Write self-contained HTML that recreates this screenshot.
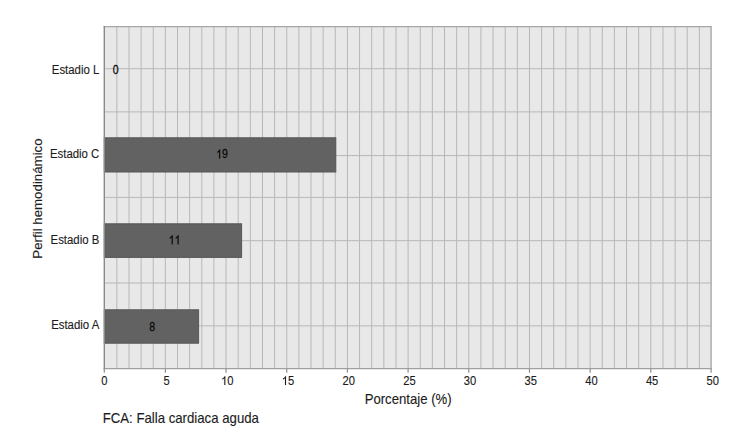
<!DOCTYPE html>
<html><head><meta charset="utf-8"><style>
html,body{margin:0;padding:0;background:#fff;width:736px;height:433px;overflow:hidden}
svg{display:block}
text{font-family:"Liberation Sans",sans-serif;fill:#1c1c1c;stroke:#1c1c1c;stroke-width:0.12px}
</style></head><body>
<svg width="736" height="433" viewBox="0 0 736 433">
<rect x="104.3" y="26.65" width="606.80" height="342.05" fill="#e8e8e8"/>
<line x1="116.84" y1="26.65" x2="116.84" y2="368.7" stroke="#b7b7b7" stroke-width="1"/>
<line x1="128.97" y1="26.65" x2="128.97" y2="368.7" stroke="#b7b7b7" stroke-width="1"/>
<line x1="141.11" y1="26.65" x2="141.11" y2="368.7" stroke="#b7b7b7" stroke-width="1"/>
<line x1="153.24" y1="26.65" x2="153.24" y2="368.7" stroke="#b7b7b7" stroke-width="1"/>
<line x1="165.38" y1="26.65" x2="165.38" y2="368.7" stroke="#b7b7b7" stroke-width="1"/>
<line x1="177.52" y1="26.65" x2="177.52" y2="368.7" stroke="#b7b7b7" stroke-width="1"/>
<line x1="189.65" y1="26.65" x2="189.65" y2="368.7" stroke="#b7b7b7" stroke-width="1"/>
<line x1="201.79" y1="26.65" x2="201.79" y2="368.7" stroke="#b7b7b7" stroke-width="1"/>
<line x1="213.92" y1="26.65" x2="213.92" y2="368.7" stroke="#b7b7b7" stroke-width="1"/>
<line x1="226.06" y1="26.65" x2="226.06" y2="368.7" stroke="#b7b7b7" stroke-width="1"/>
<line x1="238.20" y1="26.65" x2="238.20" y2="368.7" stroke="#b7b7b7" stroke-width="1"/>
<line x1="250.33" y1="26.65" x2="250.33" y2="368.7" stroke="#b7b7b7" stroke-width="1"/>
<line x1="262.47" y1="26.65" x2="262.47" y2="368.7" stroke="#b7b7b7" stroke-width="1"/>
<line x1="274.60" y1="26.65" x2="274.60" y2="368.7" stroke="#b7b7b7" stroke-width="1"/>
<line x1="286.74" y1="26.65" x2="286.74" y2="368.7" stroke="#b7b7b7" stroke-width="1"/>
<line x1="298.88" y1="26.65" x2="298.88" y2="368.7" stroke="#b7b7b7" stroke-width="1"/>
<line x1="311.01" y1="26.65" x2="311.01" y2="368.7" stroke="#b7b7b7" stroke-width="1"/>
<line x1="323.15" y1="26.65" x2="323.15" y2="368.7" stroke="#b7b7b7" stroke-width="1"/>
<line x1="335.28" y1="26.65" x2="335.28" y2="368.7" stroke="#b7b7b7" stroke-width="1"/>
<line x1="347.42" y1="26.65" x2="347.42" y2="368.7" stroke="#b7b7b7" stroke-width="1"/>
<line x1="359.56" y1="26.65" x2="359.56" y2="368.7" stroke="#b7b7b7" stroke-width="1"/>
<line x1="371.69" y1="26.65" x2="371.69" y2="368.7" stroke="#b7b7b7" stroke-width="1"/>
<line x1="383.83" y1="26.65" x2="383.83" y2="368.7" stroke="#b7b7b7" stroke-width="1"/>
<line x1="395.96" y1="26.65" x2="395.96" y2="368.7" stroke="#b7b7b7" stroke-width="1"/>
<line x1="408.10" y1="26.65" x2="408.10" y2="368.7" stroke="#b7b7b7" stroke-width="1"/>
<line x1="420.24" y1="26.65" x2="420.24" y2="368.7" stroke="#b7b7b7" stroke-width="1"/>
<line x1="432.37" y1="26.65" x2="432.37" y2="368.7" stroke="#b7b7b7" stroke-width="1"/>
<line x1="444.51" y1="26.65" x2="444.51" y2="368.7" stroke="#b7b7b7" stroke-width="1"/>
<line x1="456.64" y1="26.65" x2="456.64" y2="368.7" stroke="#b7b7b7" stroke-width="1"/>
<line x1="468.78" y1="26.65" x2="468.78" y2="368.7" stroke="#b7b7b7" stroke-width="1"/>
<line x1="480.92" y1="26.65" x2="480.92" y2="368.7" stroke="#b7b7b7" stroke-width="1"/>
<line x1="493.05" y1="26.65" x2="493.05" y2="368.7" stroke="#b7b7b7" stroke-width="1"/>
<line x1="505.19" y1="26.65" x2="505.19" y2="368.7" stroke="#b7b7b7" stroke-width="1"/>
<line x1="517.32" y1="26.65" x2="517.32" y2="368.7" stroke="#b7b7b7" stroke-width="1"/>
<line x1="529.46" y1="26.65" x2="529.46" y2="368.7" stroke="#b7b7b7" stroke-width="1"/>
<line x1="541.60" y1="26.65" x2="541.60" y2="368.7" stroke="#b7b7b7" stroke-width="1"/>
<line x1="553.73" y1="26.65" x2="553.73" y2="368.7" stroke="#b7b7b7" stroke-width="1"/>
<line x1="565.87" y1="26.65" x2="565.87" y2="368.7" stroke="#b7b7b7" stroke-width="1"/>
<line x1="578.00" y1="26.65" x2="578.00" y2="368.7" stroke="#b7b7b7" stroke-width="1"/>
<line x1="590.14" y1="26.65" x2="590.14" y2="368.7" stroke="#b7b7b7" stroke-width="1"/>
<line x1="602.28" y1="26.65" x2="602.28" y2="368.7" stroke="#b7b7b7" stroke-width="1"/>
<line x1="614.41" y1="26.65" x2="614.41" y2="368.7" stroke="#b7b7b7" stroke-width="1"/>
<line x1="626.55" y1="26.65" x2="626.55" y2="368.7" stroke="#b7b7b7" stroke-width="1"/>
<line x1="638.68" y1="26.65" x2="638.68" y2="368.7" stroke="#b7b7b7" stroke-width="1"/>
<line x1="650.82" y1="26.65" x2="650.82" y2="368.7" stroke="#b7b7b7" stroke-width="1"/>
<line x1="662.96" y1="26.65" x2="662.96" y2="368.7" stroke="#b7b7b7" stroke-width="1"/>
<line x1="675.09" y1="26.65" x2="675.09" y2="368.7" stroke="#b7b7b7" stroke-width="1"/>
<line x1="687.23" y1="26.65" x2="687.23" y2="368.7" stroke="#b7b7b7" stroke-width="1"/>
<line x1="699.36" y1="26.65" x2="699.36" y2="368.7" stroke="#b7b7b7" stroke-width="1"/>
<line x1="104.3" y1="68.70" x2="711.1" y2="68.70" stroke="#b7b7b7" stroke-width="1"/>
<line x1="104.3" y1="111.90" x2="711.1" y2="111.90" stroke="#b7b7b7" stroke-width="1"/>
<line x1="104.3" y1="155.60" x2="711.1" y2="155.60" stroke="#b7b7b7" stroke-width="1"/>
<line x1="104.3" y1="197.40" x2="711.1" y2="197.40" stroke="#b7b7b7" stroke-width="1"/>
<line x1="104.3" y1="240.70" x2="711.1" y2="240.70" stroke="#b7b7b7" stroke-width="1"/>
<line x1="104.3" y1="283.00" x2="711.1" y2="283.00" stroke="#b7b7b7" stroke-width="1"/>
<line x1="104.3" y1="325.90" x2="711.1" y2="325.90" stroke="#b7b7b7" stroke-width="1"/>
<rect x="104.3" y="137.80" width="231.50" height="34.20" fill="#626262" stroke="#575757" stroke-width="1"/>
<rect x="104.3" y="223.80" width="137.30" height="33.60" fill="#626262" stroke="#575757" stroke-width="1"/>
<rect x="104.3" y="309.80" width="94.30" height="33.40" fill="#626262" stroke="#575757" stroke-width="1"/>
<line x1="103.6" y1="26.65" x2="711.8000000000001" y2="26.65" stroke="#a6a6a6" stroke-width="1.3"/>
<line x1="711.1" y1="26.65" x2="711.1" y2="368.7" stroke="#a8a8a8" stroke-width="1.4"/>
<line x1="103.6" y1="368.7" x2="711.8000000000001" y2="368.7" stroke="#a0a09e" stroke-width="1.3"/>
<line x1="104.3" y1="26.049999999999997" x2="104.3" y2="369.3" stroke="#8a8a8a" stroke-width="1.4"/>
<line x1="104.30" y1="368.7" x2="104.30" y2="372.7" stroke="#8e8e8e" stroke-width="1.2"/>
<text transform="translate(101.19,384.90) scale(1,1.06)" style="font-size:11.2px;fill:#1c1c1c;stroke:#1c1c1c;stroke-width:0.12px">0</text>
<line x1="165.38" y1="368.7" x2="165.38" y2="372.7" stroke="#8e8e8e" stroke-width="1.2"/>
<text transform="translate(163.57,384.90) scale(1,1.06)" style="font-size:11.2px;fill:#1c1c1c;stroke:#1c1c1c;stroke-width:0.12px">5</text>
<line x1="226.06" y1="368.7" x2="226.06" y2="372.7" stroke="#8e8e8e" stroke-width="1.2"/>
<path transform="translate(221.13,384.90) scale(0.005469,-0.005797)" d="M763 0H583V1147Q518 1085 412.5 1023T223 930V1104Q375 1175 488.5 1276T649 1472H763Z" fill="#1c1c1c" stroke="#1c1c1c" stroke-width="21.9"/>
<text transform="translate(227.36,384.90) scale(1,1.06)" style="font-size:11.2px;fill:#1c1c1c;stroke:#1c1c1c;stroke-width:0.12px">0</text>
<line x1="286.74" y1="368.7" x2="286.74" y2="372.7" stroke="#8e8e8e" stroke-width="1.2"/>
<path transform="translate(281.81,384.90) scale(0.005469,-0.005797)" d="M763 0H583V1147Q518 1085 412.5 1023T223 930V1104Q375 1175 488.5 1276T649 1472H763Z" fill="#1c1c1c" stroke="#1c1c1c" stroke-width="21.9"/>
<text transform="translate(288.04,384.90) scale(1,1.06)" style="font-size:11.2px;fill:#1c1c1c;stroke:#1c1c1c;stroke-width:0.12px">5</text>
<line x1="347.42" y1="368.7" x2="347.42" y2="372.7" stroke="#8e8e8e" stroke-width="1.2"/>
<text transform="translate(342.49,384.90) scale(1,1.06)" style="font-size:11.2px;fill:#1c1c1c;stroke:#1c1c1c;stroke-width:0.12px">2</text>
<text transform="translate(348.72,384.90) scale(1,1.06)" style="font-size:11.2px;fill:#1c1c1c;stroke:#1c1c1c;stroke-width:0.12px">0</text>
<line x1="408.10" y1="368.7" x2="408.10" y2="372.7" stroke="#8e8e8e" stroke-width="1.2"/>
<text transform="translate(403.17,384.90) scale(1,1.06)" style="font-size:11.2px;fill:#1c1c1c;stroke:#1c1c1c;stroke-width:0.12px">2</text>
<text transform="translate(409.40,384.90) scale(1,1.06)" style="font-size:11.2px;fill:#1c1c1c;stroke:#1c1c1c;stroke-width:0.12px">5</text>
<line x1="468.78" y1="368.7" x2="468.78" y2="372.7" stroke="#8e8e8e" stroke-width="1.2"/>
<text transform="translate(463.85,384.90) scale(1,1.06)" style="font-size:11.2px;fill:#1c1c1c;stroke:#1c1c1c;stroke-width:0.12px">3</text>
<text transform="translate(470.08,384.90) scale(1,1.06)" style="font-size:11.2px;fill:#1c1c1c;stroke:#1c1c1c;stroke-width:0.12px">0</text>
<line x1="529.46" y1="368.7" x2="529.46" y2="372.7" stroke="#8e8e8e" stroke-width="1.2"/>
<text transform="translate(524.53,384.90) scale(1,1.06)" style="font-size:11.2px;fill:#1c1c1c;stroke:#1c1c1c;stroke-width:0.12px">3</text>
<text transform="translate(530.76,384.90) scale(1,1.06)" style="font-size:11.2px;fill:#1c1c1c;stroke:#1c1c1c;stroke-width:0.12px">5</text>
<line x1="590.14" y1="368.7" x2="590.14" y2="372.7" stroke="#8e8e8e" stroke-width="1.2"/>
<text transform="translate(585.21,384.90) scale(1,1.06)" style="font-size:11.2px;fill:#1c1c1c;stroke:#1c1c1c;stroke-width:0.12px">4</text>
<text transform="translate(591.44,384.90) scale(1,1.06)" style="font-size:11.2px;fill:#1c1c1c;stroke:#1c1c1c;stroke-width:0.12px">0</text>
<line x1="650.82" y1="368.7" x2="650.82" y2="372.7" stroke="#8e8e8e" stroke-width="1.2"/>
<text transform="translate(645.89,384.90) scale(1,1.06)" style="font-size:11.2px;fill:#1c1c1c;stroke:#1c1c1c;stroke-width:0.12px">4</text>
<text transform="translate(652.12,384.90) scale(1,1.06)" style="font-size:11.2px;fill:#1c1c1c;stroke:#1c1c1c;stroke-width:0.12px">5</text>
<line x1="711.10" y1="368.7" x2="711.10" y2="372.7" stroke="#8e8e8e" stroke-width="1.2"/>
<text transform="translate(706.57,384.90) scale(1,1.06)" style="font-size:11.2px;fill:#1c1c1c;stroke:#1c1c1c;stroke-width:0.12px">5</text>
<text transform="translate(712.80,384.90) scale(1,1.06)" style="font-size:11.2px;fill:#1c1c1c;stroke:#1c1c1c;stroke-width:0.12px">0</text>
<text transform="translate(99.30,74.30) scale(1,1.06)" text-anchor="end" style="font-size:11.4px" >Estadio L</text>
<text transform="translate(99.30,157.90) scale(1,1.06)" text-anchor="end" style="font-size:11.4px" >Estadio C</text>
<text transform="translate(99.30,243.70) scale(1,1.06)" text-anchor="end" style="font-size:11.4px" >Estadio B</text>
<text transform="translate(99.30,329.10) scale(1,1.06)" text-anchor="end" style="font-size:11.4px" >Estadio A</text>
<text transform="translate(112.75,73.95) scale(1,1.17)" style="font-size:10.6px;fill:#080808;stroke:#080808;stroke-width:0.22px">0</text>
<path transform="translate(216.20,158.45) scale(0.005176,-0.006056)" d="M763 0H583V1147Q518 1085 412.5 1023T223 930V1104Q375 1175 488.5 1276T649 1472H763Z" fill="#080808" stroke="#080808" stroke-width="42.5"/>
<text transform="translate(222.10,158.45) scale(1,1.17)" style="font-size:10.6px;fill:#080808;stroke:#080808;stroke-width:0.22px">9</text>
<path transform="translate(168.70,244.25) scale(0.005176,-0.006056)" d="M763 0H583V1147Q518 1085 412.5 1023T223 930V1104Q375 1175 488.5 1276T649 1472H763Z" fill="#080808" stroke="#080808" stroke-width="42.5"/>
<path transform="translate(174.60,244.25) scale(0.005176,-0.006056)" d="M763 0H583V1147Q518 1085 412.5 1023T223 930V1104Q375 1175 488.5 1276T649 1472H763Z" fill="#080808" stroke="#080808" stroke-width="42.5"/>
<text transform="translate(149.20,330.55) scale(1,1.17)" style="font-size:10.6px;fill:#080808;stroke:#080808;stroke-width:0.22px">8</text>
<text transform="translate(408.10,403.60) scale(1,1.06)" text-anchor="middle" style="font-size:13.15px" >Porcentaje (%)</text>
<text transform="translate(41.6,198.5) rotate(-90) scale(1.055,1)" text-anchor="middle" style="font-size:12.6px">Perfil hemodinámico</text>
<text transform="translate(102.70,422.60) scale(1,1.06)" text-anchor="start" style="font-size:13.2px" >FCA: Falla cardiaca aguda</text>
</svg>
</body></html>
